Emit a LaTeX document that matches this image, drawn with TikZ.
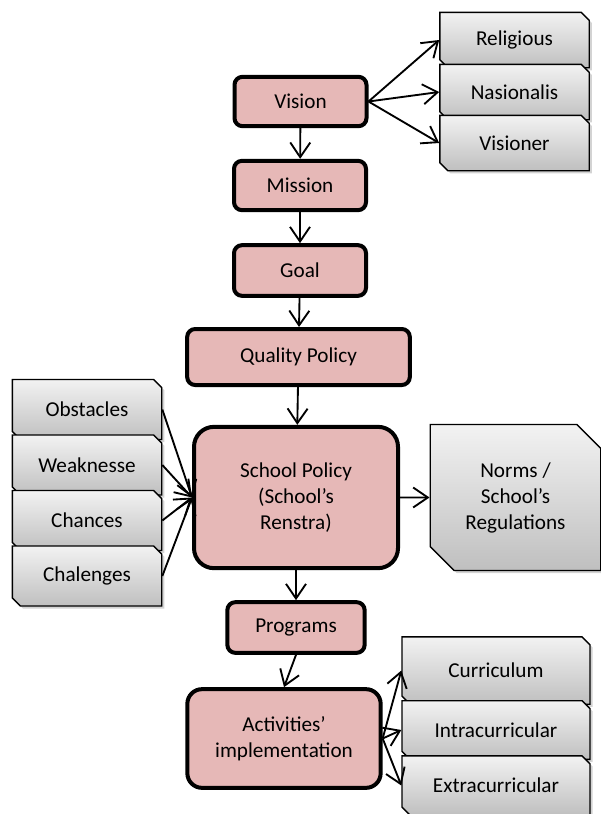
\documentclass[tikz,border=0pt]{standalone}
\usepackage{fontspec}
\setmainfont{Carlito}
\usetikzlibrary{shapes.misc, shadows, arrows.meta}

\definecolor{corepink}{HTML}{E6B8B7}

\begin{document}
\begin{tikzpicture}[x=0.75pt, y=-0.75pt,
    font=\fontsize{15.9}{19.5}\selectfont,
    corebox/.style={draw, line width=3pt, fill=corepink, rounded corners=6pt,
        align=center, inner sep=2pt, minimum width=99pt, minimum height=37pt},
    sidebox/.style={draw, line width=1pt, chamfered rectangle,
        chamfered rectangle corners={north east, south west},
        chamfered rectangle xsep=3pt, chamfered rectangle ysep=3pt,
        top color=gray!10, bottom color=gray!50, align=center, inner sep=1pt,
        drop shadow={shadow xshift=2pt, shadow yshift=-2pt, opacity=0.35},
        minimum width=112pt, minimum height=41.5pt},
    flow/.style={-{Straight Barb[length=11pt, width=15pt, line width=1.4pt]},
        line width=1.4pt}]

    % --- Page (px grid of the original) ---
    \useasboundingbox (0,0) rectangle (600,814);

    % --- Main column ---
    \node[corebox] (vision) at (300.5,101.5) {Vision};
    \node[corebox] (mission) at (300,185.5) {Mission};
    \node[corebox, minimum height=38pt] (goal) at (300,270.5) {Goal};
    \node[corebox, minimum width=167pt, minimum height=42pt] (quality) at (298.5,357) {Quality Policy};
    \node[corebox, minimum width=153pt, minimum height=106pt, rounded corners=15pt]
        (school) at (296,497.5) {School Policy\\(School’s\\Renstra)};
    \node[corebox, minimum width=103pt, minimum height=38pt] (programs) at (296,627.5) {Programs};
    \node[corebox, minimum width=145pt, minimum height=74pt, rounded corners=11pt]
        (activities) at (284,738.5) {Activities’\\implementation};

    \draw[flow] (vision) -- (mission);
    \draw[flow] (mission) -- (goal);
    \draw[flow] (goal) -- (quality);
    \draw[flow] (quality) -- (school);
    \draw[flow] (school) -- (programs);
    \draw[flow] (programs.south) -- (activities.north);

    % --- Values of the vision ---
    \foreach \n/\t/\y in {religious/Religious/40, nasionalis/Nasionalis/92, visioner/Visioner/143}{
        \node[sidebox] (\n) at (514.5,\y) {\t};
        \draw[flow] (vision.east) -- (\n.west);
    }

    % --- Environment analysis, left ---
    \foreach \n/\t/\y in {obstacles/Obstacles/409.5, weaknesse/Weaknesse/465,
                          chances/Chances/520.5, chalenges/Chalenges/576}{
        \node[sidebox, minimum height=45pt] (\n) at (87,\y) {\t};
        \draw[flow] (\n.east) -- (school.west);
    }

    % --- Norms, right ---
    \node[sidebox, minimum width=128pt, minimum height=109.5pt,
        chamfered rectangle xsep=9pt, chamfered rectangle ysep=9pt]
        (norms) at (515.5,497.5) {Norms /\\School’s\\Regulations};
    \draw[flow] (school) -- (norms);

    % --- Activities ---
    \node[sidebox, minimum width=141pt, minimum height=50.5pt] (curriculum) at (496,670.5) {Curriculum};
    \node[sidebox, minimum width=141pt, minimum height=44pt] (intra) at (496,730) {Intracurricular};
    \node[sidebox, minimum width=141pt, minimum height=44.5pt] (extra) at (496,785.5) {Extracurricular};
    \foreach \n in {curriculum, intra, extra}
        \draw[flow] (activities.east) -- (\n.west);
\end{tikzpicture}
\end{document}
